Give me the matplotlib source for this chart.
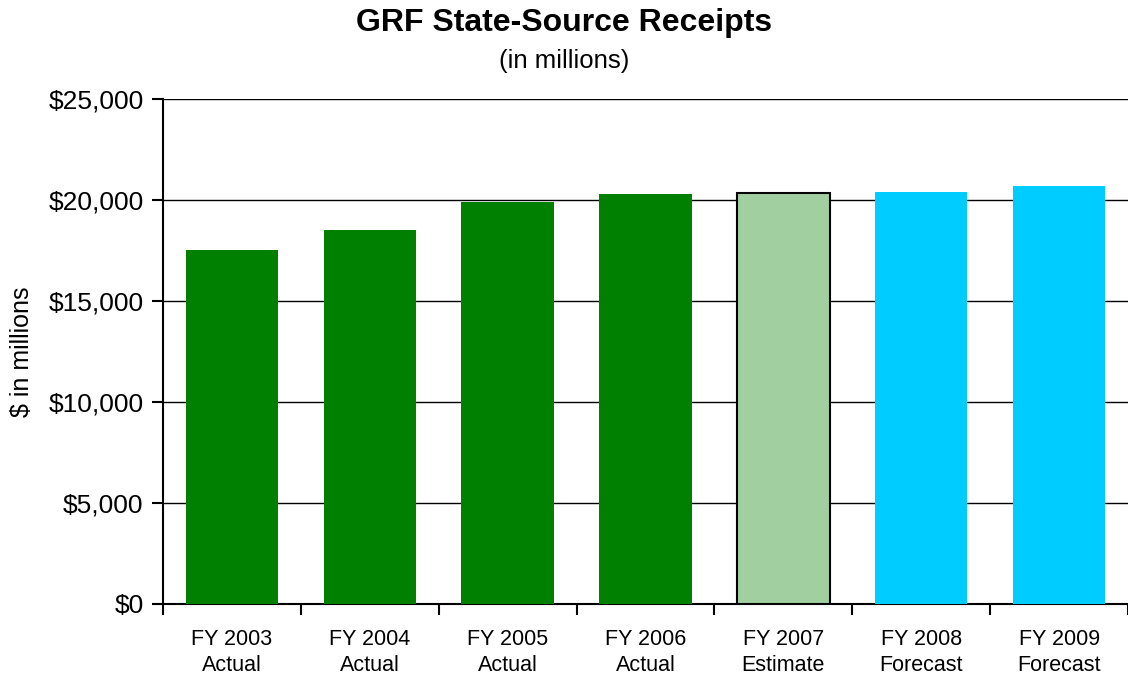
import matplotlib
matplotlib.use("Agg")
import matplotlib.pyplot as plt
import numpy as np

plt.rcParams['font.family'] = ['Liberation Sans', 'DejaVu Sans']

years = ["FY 2003", "FY 2004", "FY 2005", "FY 2006", "FY 2007", "FY 2008", "FY 2009"]
kinds = ["Actual", "Actual", "Actual", "Actual", "Estimate", "Forecast", "Forecast"]
receipts = [17530, 18520, 19910, 20310, 20340, 20410, 20700]

colors = {"Actual": "#008000", "Estimate": "#A2CF9F", "Forecast": "#00CCFF"}

fig = plt.figure(figsize=(11.28, 6.8), dpi=100)
ax = fig.add_axes([0.1445, 0.1118, 0.8555, 0.7426])

x = np.arange(len(years))
for i in range(len(years)):
    edge = "black" if kinds[i] == "Estimate" else "none"
    ax.bar(x[i], receipts[i], width=0.67, color=colors[kinds[i]],
           edgecolor=edge, linewidth=1.5, zorder=3)

ax.set_xlim(-0.5, len(years) - 0.5)
ax.set_ylim(0, 25000)
ax.set_yticks(np.arange(0, 25001, 5000))
ax.set_yticklabels(["${:,}".format(v) for v in range(0, 25001, 5000)], fontsize=19)
ax.yaxis.grid(True, color="black", linewidth=1, zorder=0)

# category labels centered, ticks on the boundaries
ax.set_xticks(np.arange(-0.5, len(years), 1.0))
ax.set_xticklabels([])
ax.set_xticks(x, minor=True)
ax.set_xticklabels([y + "\n" + k for y, k in zip(years, kinds)], minor=True,
                   fontsize=15.5, linespacing=1.3)
ax.tick_params(axis="x", which="minor", length=0, pad=18)
ax.tick_params(axis="x", which="major", length=8, width=1.5, direction="out")
ax.tick_params(axis="y", length=8, width=1.5, direction="out", pad=6)

for s in ["top", "right"]:
    ax.spines[s].set_visible(False)
ax.spines["left"].set_linewidth(1.5)
ax.spines["bottom"].set_linewidth(1.5)
ax.set_axisbelow(True)

ax.set_ylabel("$ in millions", fontsize=18, labelpad=10)

fig.text(0.5, 0.966, "GRF State-Source Receipts", ha="center", va="center",
         fontsize=23, fontweight="bold")
fig.text(0.5, 0.911, "(in millions)", ha="center", va="center", fontsize=18.5)

fig.savefig("out.png", dpi=100)
